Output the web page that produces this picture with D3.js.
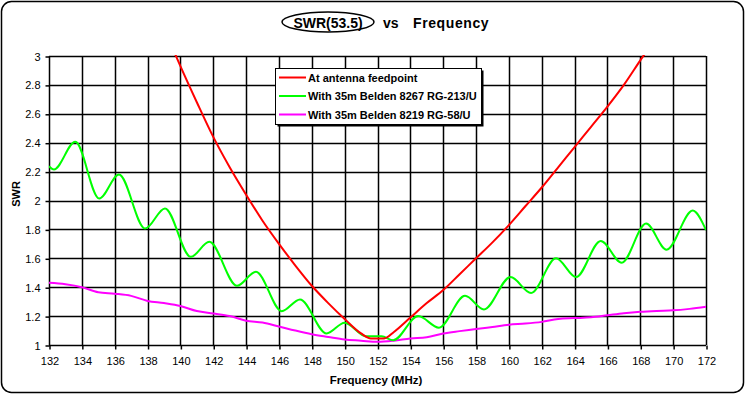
<!DOCTYPE html>
<html>
<head>
<meta charset="utf-8">
<script src="https://cdn.jsdelivr.net/npm/d3@7"></script>
<style>
  body { margin: 0; background: #fff; }
  text { font-family: "Liberation Sans", Arial, sans-serif; }
</style>
</head>
<body>
<svg width="745" height="395"></svg>
<script>
// Define SVG dimensions
const width = 745
const height = 395

// plot area
const plotLeft = 49, plotRight = 706, plotTop = 56, plotBottom = 345

// x ticks and y ticks
const xTicks = d3.range(132, 173, 2)
const yTicks = [1, 1.2, 1.4, 1.6, 1.8, 2, 2.2, 2.4, 2.6, 2.8, 3]

// series names
const seriesNames = ["At antenna feedpoint", "With 35m Belden 8267 RG-213/U", "With 35m Belden 8219 RG-58/U"]
const seriesColors = ["#ff0000", "#00ff00", "#ff00ff"]

// At antenna feedpoint
const feedFreq = [139.5, 140, 141, 142, 143, 144, 145, 146, 147, 148, 149, 150, 151, 151.6, 152.4, 153, 154, 155, 156, 157, 158, 159, 160, 161, 162, 163, 164, 165, 166, 167, 168, 168.6]
const feedSwr  = [3.06, 2.93, 2.68, 2.44, 2.23, 2.04, 1.86, 1.70, 1.55, 1.41, 1.29, 1.18, 1.08, 1.045, 1.045, 1.09, 1.19, 1.29, 1.38, 1.49, 1.60, 1.71, 1.83, 1.96, 2.09, 2.23, 2.37, 2.51, 2.65, 2.80, 2.97, 3.07]

// RG-213 (peaks and troughs)
const rg213Freq = [132.0, 132.3, 133.6, 135.06, 136.26, 137.85, 139.06, 140.63, 141.76, 143.45, 144.6, 146.17, 147.28, 148.9, 150.0, 151.3, 152.25, 152.96, 154.48, 155.74, 157.33, 158.48, 160.1, 161.35, 162.87, 164.09, 165.59, 166.87, 168.35, 169.6, 171.19, 172.0]
const rg213Swr  = [2.237, 2.215, 2.406, 2.014, 2.18, 1.806, 1.945, 1.61, 1.714, 1.41, 1.507, 1.234, 1.315, 1.08, 1.154, 1.06, 1.06, 1.033, 1.2, 1.12, 1.34, 1.246, 1.47, 1.36, 1.6, 1.47, 1.72, 1.57, 1.84, 1.66, 1.93, 1.795]

// RG-58
const rg58Freq = d3.range(132, 173, 1)
const rg58Swr  = [1.43, 1.42, 1.40, 1.365, 1.355, 1.34, 1.305, 1.29, 1.27, 1.235, 1.218, 1.20, 1.168, 1.155, 1.128, 1.10, 1.075, 1.056, 1.038, 1.03, 1.022, 1.03, 1.045, 1.054, 1.08, 1.096, 1.11, 1.125, 1.14, 1.148, 1.16, 1.18, 1.186, 1.192, 1.206, 1.22, 1.23, 1.236, 1.24, 1.25, 1.264]

const svg = d3.select("svg")

// outer frame
svg.append("rect")
  .attr("x", 1.5).attr("y", 1.5)
  .attr("width", 742).attr("height", 391)
  .attr("rx", 10).attr("ry", 10)
  .style("fill", "#fff")
  .style("stroke", "#000")
  .style("stroke-width", 1.5)

const xScale = d3.scaleLinear().domain([132, 172]).range([plotLeft, plotRight])
const yScale = d3.scaleLinear().domain([1, 3]).range([plotBottom, plotTop])

//################### grid ####################
const grid = svg.append("g")
grid.selectAll("line.v")
  .data(xTicks)
  .join("line")
  .attr("class", "v")
  .attr("x1", d => Math.round(xScale(d)) + 0.5).attr("x2", d => Math.round(xScale(d)) + 0.5)
  .attr("y1", plotTop).attr("y2", plotBottom)
  .style("stroke", "#000").style("stroke-width", 1.5)
grid.selectAll("line.h")
  .data(yTicks)
  .join("line")
  .attr("class", "h")
  .attr("x1", plotLeft).attr("x2", plotRight)
  .attr("y1", d => Math.round(yScale(d)) + 0.5).attr("y2", d => Math.round(yScale(d)) + 0.5)
  .style("stroke", "#000").style("stroke-width", 1.5)

//################### axes ####################
const xAxis = d3.axisBottom(xScale).tickValues(xTicks).tickSize(4).tickPadding(8).tickFormat(d3.format("d"))
const yAxis = d3.axisLeft(yScale).tickValues(yTicks).tickSize(4).tickPadding(5).tickFormat(d => d)

const xg = svg.append("g").attr("transform", "translate(0.5," + (plotBottom + 0.5) + ")").call(xAxis)
const yg = svg.append("g").attr("transform", "translate(" + (plotLeft + 0.5) + ",0.5)").call(yAxis)
for (const g of [xg, yg]) {
  g.selectAll("path").remove()
  g.selectAll("line").style("stroke", "#000").style("stroke-width", 1.5)
  g.selectAll("text").style("font-size", "11px").style("fill", "#000")
}

// axis titles
svg.append("text")
  .attr("x", 376).attr("y", 384)
  .attr("text-anchor", "middle")
  .style("font-size", "11.5px").style("font-weight", "bold")
  .text("Frequency (MHz)")

svg.append("text")
  .attr("transform", "translate(20,194) rotate(-90)")
  .attr("text-anchor", "middle")
  .style("font-size", "11px").style("font-weight", "bold")
  .text("SWR")

// title
svg.append("ellipse")
  .attr("cx", 328).attr("cy", 22).attr("rx", 46).attr("ry", 10)
  .style("fill", "none").style("stroke", "#000").style("stroke-width", 1.5)
svg.append("text")
  .attr("x", 328).attr("y", 27.5).attr("text-anchor", "middle")
  .style("font-size", "14px").style("font-weight", "bold")
  .text("SWR(53.5)")
svg.append("text")
  .attr("x", 383).attr("y", 27.5)
  .style("font-size", "14px").style("font-weight", "bold")
  .text("vs")
svg.append("text")
  .attr("x", 413).attr("y", 27.5)
  .style("font-size", "14px").style("font-weight", "bold")
  .style("letter-spacing", "0.6px")
  .text("Frequency")

//################### lines ####################
svg.append("clipPath").attr("id", "plotclip")
  .append("rect").attr("x", plotLeft).attr("y", plotTop - 1).attr("width", plotRight - plotLeft).attr("height", plotBottom - plotTop + 2)

const series = [
  d3.zip(feedFreq, feedSwr),
  d3.zip(rg213Freq, rg213Swr),
  d3.zip(rg58Freq, rg58Swr)
]

const line = d3.line()
  .x(d => xScale(d[0]))
  .y(d => yScale(d[1]))
  .curve(d3.curveMonotoneX)

const plot = svg.append("g").attr("clip-path", "url(#plotclip)")
// draw magenta, green, red (red on top)
;[2, 1, 0].forEach(i => {
  plot.append("path")
    .datum(series[i])
    .attr("fill", "none")
    .attr("stroke", seriesColors[i])
    .attr("stroke-width", 2)
    .attr("d", line)
})

//################### legend ####################
const lg = svg.append("g").attr("transform", "translate(275,68)")
lg.append("rect")
  .attr("x", 2.5).attr("y", 2.5).attr("width", 206).attr("height", 56)
  .style("fill", "#000")
lg.append("rect")
  .attr("x", 0.5).attr("y", 0.5).attr("width", 206).attr("height", 56)
  .style("fill", "#fff").style("stroke", "#000").style("stroke-width", 1)
seriesNames.forEach((name, i) => {
  const y = 9.5 + i * 18.5
  lg.append("line")
    .attr("x1", 4).attr("x2", 31).attr("y1", y).attr("y2", y)
    .style("stroke", seriesColors[i]).style("stroke-width", 2)
  lg.append("text")
    .attr("x", 33).attr("y", y + 4)
    .style("font-size", "11px").style("font-weight", "bold")
    .text(name)
})
</script>
</body>
</html>
